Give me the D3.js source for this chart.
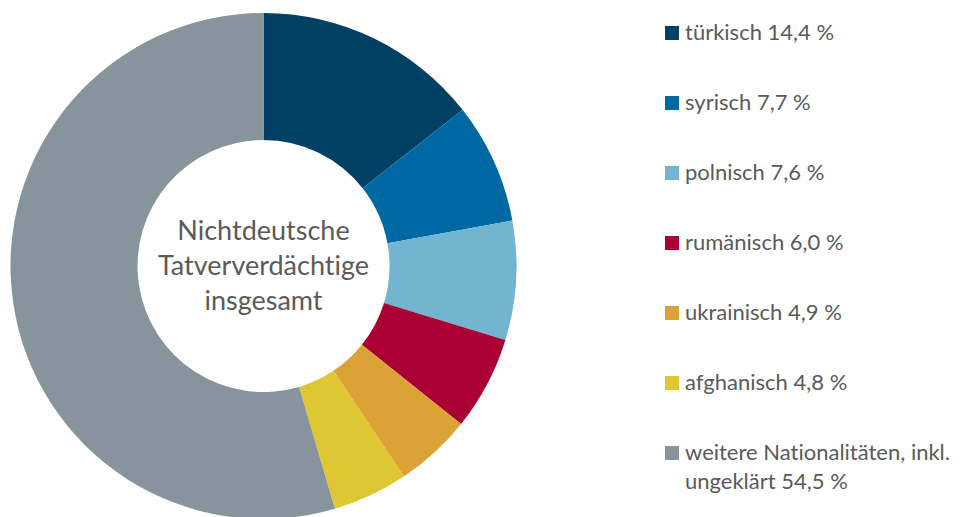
<!DOCTYPE html>
<html><head><meta charset="utf-8">
<script src="https://cdn.jsdelivr.net/npm/d3@7"></script>
<style>html,body{margin:0;padding:0;background:#fff;}svg{display:block;}text{font-variant-ligatures:none;font-feature-settings:"liga" 0;}</style>
</head><body>
<svg id="chart" width="961" height="517"></svg>
<script>
const categories = ["türkisch","syrisch","polnisch","rumänisch","ukrainisch","afghanisch","weitere Nationalitäten, inkl. ungeklärt"];
const values = [14.4, 7.7, 7.6, 6.0, 4.9, 4.8, 54.5];
const valueLabels = ["14,4 %","7,7 %","7,6 %","6,0 %","4,9 %","4,8 %","54,5 %"];
const colors = ["#004064","#0068a3","#73b4d1","#ab0034","#dba336","#dfc733","#87949c"];
const centerLines = ["Nichtdeutsche","Tatververdächtige","insgesamt"];

const svg = d3.select("#chart");
const cx = 263.5, cy = 266, rOuter = 253, rInner = 126;
const font = "Lato, 'Noto Sans', sans-serif";
const textColor = "#5a5a5a";

const pie = d3.pie().sort(null).value(d => d);
const arc = d3.arc().innerRadius(rInner).outerRadius(rOuter);
const g = svg.append("g").attr("transform", `translate(${cx},${cy})`);
g.selectAll("path").data(pie(values)).join("path")
  .attr("d", arc).attr("fill", (d,i) => colors[i]);

const ct = g.append("text").attr("text-anchor","middle").attr("font-family",font)
  .attr("font-size",27).attr("fill",textColor);
centerLines.forEach((l,i) => ct.append("tspan").attr("x",0).attr("y",(i-1)*35 + 9).text(l));

const y = d3.scalePoint().domain(categories).range([33, 453]);
const lg = svg.append("g");
categories.forEach((c,i) => {
  const yy = y(c);
  lg.append("rect").attr("x",665).attr("y",yy-7).attr("width",14).attr("height",14).attr("fill",colors[i]);
  const t = lg.append("text").attr("font-family",font).attr("font-size",22).attr("fill",textColor);
  if (i === categories.length-1) {
    t.append("tspan").attr("x",685).attr("y",yy+7).text("weitere Nationalitäten, inkl.");
    t.append("tspan").attr("x",685).attr("y",yy+36).text("ungeklärt " + valueLabels[i]);
  } else {
    t.attr("x",685).attr("y",yy+7).text(c + " " + valueLabels[i]);
  }
});
</script>
</body></html>
